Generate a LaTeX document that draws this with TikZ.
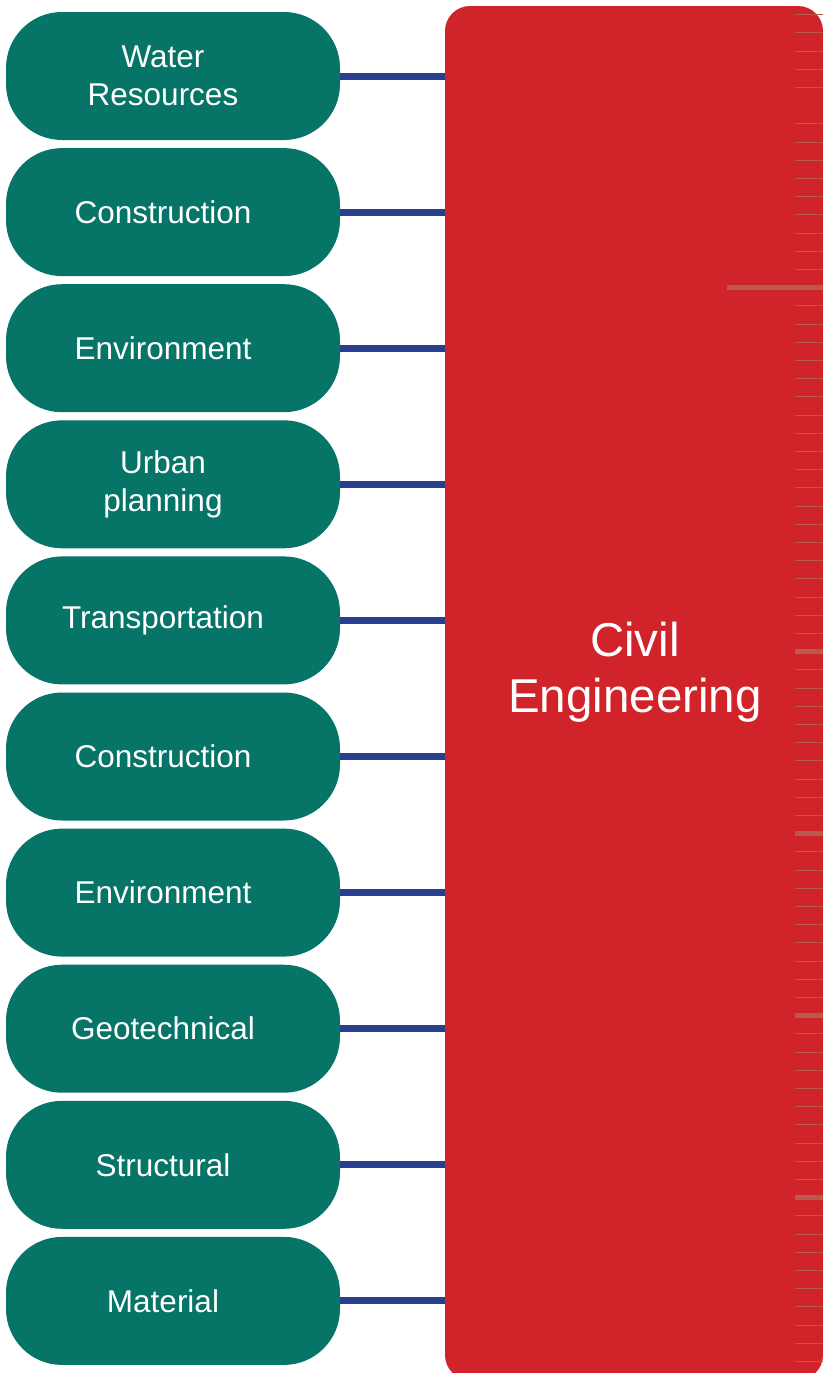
\documentclass[tikz,border=0pt]{standalone}
\usepackage{fontspec}
\setmainfont{Liberation Sans}
\definecolor{pillgreen}{HTML}{067467}
\definecolor{civred}{HTML}{D0232A}
\definecolor{linkblue}{HTML}{283F8E}
\definecolor{tickc}{HTML}{B95A4E}
\begin{document}
\begin{tikzpicture}[x=1pt,y=-1pt,
  pill/.style={rectangle,rounded corners=56pt,fill=pillgreen,minimum width=334pt,minimum height=128pt,inner sep=0pt},
  pilltext/.style={text=white,font=\fontsize{31.5}{38.5}\selectfont,align=center},
  link/.style={draw=linkblue,line width=7pt}]
\useasboundingbox (0,0) rectangle (822,1373);
\node[rectangle,rounded corners=25pt,fill=civred,minimum width=378pt,minimum height=1374pt,inner sep=0pt] (civil) at (634,693) {};
\foreach \k in {0,...,74}{
  \ifnum\k=5\relax\else
  \draw[tickc,line width=1pt] (795,14.7+18.2*\k) -- (824,14.7+18.2*\k);
  \fi
}
\foreach \k in {35,45,55,65}{
  \draw[tickc,line width=5.5pt] (795,14.7+18.2*\k) -- (824,14.7+18.2*\k);
}
\draw[tickc,line width=5.5pt] (727,287.7) -- (824,287.7);
\node[text=white,font=\fontsize{47.5}{56}\selectfont,align=center] (civtext) at (635,672) {Civil\\Engineering};
\foreach \i/\t in {1/{Water\\Resources},2/Construction,3/Environment,4/{Urban\\planning},5/Transportation,6/Construction,7/Environment,8/Geotechnical,9/Structural,10/Material}{
  \node[pill] (p\i) at (173,76+136.1*\i-136.1) {};
  \node[pilltext] (t\i) at (163,76+136.1*\i-136.1) {\t};
  \draw[link] (p\i.east) -- (civil.west |- p\i.east);
}
\end{tikzpicture}
\end{document}
